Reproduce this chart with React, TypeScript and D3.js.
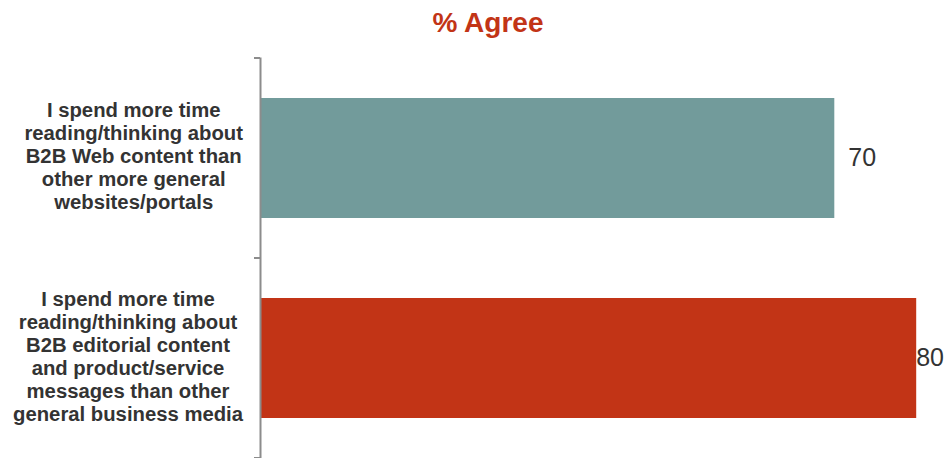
import React from "react";
import * as d3 from "d3";

const categories = [
  "I spend more time reading/thinking about B2B Web content than other more general websites/portals",
  "I spend more time reading/thinking about B2B editorial content and product/service messages than other general business media",
];
const categoryLines = [
  ["I spend more time", "reading/thinking about", "B2B Web content than", "other more general", "websites/portals"],
  ["I spend more time", "reading/thinking about", "B2B editorial content", "and product/service", "messages than other", "general business media"],
];
const values = [70, 80];
const colors = ["#729b9b", "#c23416"];
const title = "% Agree";

const font = "'Liberation Sans', Arial, sans-serif";
const labelSize = 20.3;

function measure(lines: string[]): number {
  try {
    const c = document.createElement("canvas").getContext("2d");
    if (!c) return 215;
    c.font = `bold ${labelSize}px ${font}`;
    return Math.max(...lines.map((l) => c.measureText(l).width));
  } catch {
    return 215;
  }
}

export default function App() {
  const W = 946, H = 458;
  const x = d3.scaleLinear().domain([0, 100]).range([261, 1080]);
  const y = d3.scaleBand<string>().domain(categories).range([58, 458]).paddingInner(0.4).paddingOuter(0.2);
  const step = y.step();
  const tickYs = [58, ...categories.map((c) => (y(c) as number) - step * 0.2 + step)];
  const labelRight = 243;
  return (
    <div style={{ position: "absolute", left: 0, top: 0 }}>
      <svg width={W} height={H} style={{ display: "block" }}>
        <text x={488} y={32} textAnchor="middle" fontFamily={font} fontWeight="bold" fontSize={28} fill="#c23416">
          {title}
        </text>
        {categories.map((c, i) => {
          const y0 = y(c) as number;
          const bw = y.bandwidth();
          const cy = y0 + bw / 2;
          const lines = categoryLines[i];
          const lh = 23;
          const cx = labelRight - measure(lines) / 2;
          return (
            <g key={c}>
              <rect x={x(0)} y={y0} width={x(values[i]) - x(0)} height={bw} fill={colors[i]} />
              <text x={x(values[i]) + (i === 0 ? 14 : 0)} y={cy + 1} dominantBaseline="middle" fontFamily={font} fontSize={25} fill="#333">
                {values[i]}
              </text>
              <text textAnchor="middle" fontFamily={font} fontWeight="bold" fontSize={labelSize} fill="#333">
                {lines.map((l, j) => (
                  <tspan key={j} x={cx} y={cy + (j - (lines.length - 1) / 2) * lh} dominantBaseline="middle">
                    {l}
                  </tspan>
                ))}
              </text>
            </g>
          );
        })}
        <line x1={260.5} x2={260.5} y1={57.5} y2={458} stroke="#8c8c8c" strokeWidth={2} />
        {tickYs.map((t, i) => (
          <line key={i} x1={254} x2={260} y1={t} y2={t} stroke="#8c8c8c" strokeWidth={2} />
        ))}
      </svg>
    </div>
  );
}
